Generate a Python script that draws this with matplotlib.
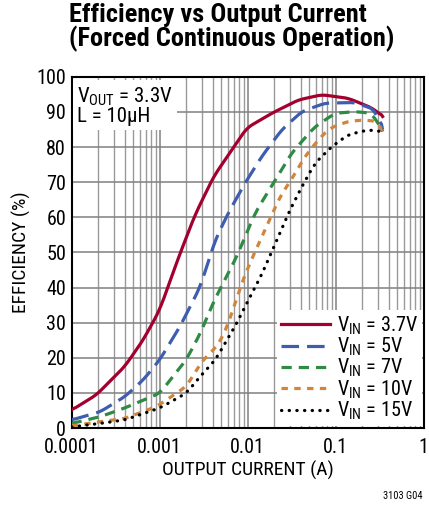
import matplotlib
matplotlib.use("Agg")
import matplotlib.pyplot as plt
import numpy as np
from matplotlib import font_manager
from matplotlib.ticker import LogLocator, NullFormatter, FixedLocator, FixedFormatter

_avail = set(f.name for f in font_manager.fontManager.ttflist)
FONT_NAME = next((n for n in ['Roboto Condensed', 'Archivo Narrow', 'PT Sans Narrow',
                              'Liberation Sans Narrow', 'Liberation Sans'] if n in _avail), 'DejaVu Sans')
plt.rcParams['font.family'] = [FONT_NAME, 'DejaVu Sans']
plt.rcParams['mathtext.fontset'] = 'custom'
plt.rcParams['mathtext.rm'] = FONT_NAME
plt.rcParams['mathtext.it'] = FONT_NAME

# Data
i_37 = [0.0001, 0.00019, 0.0004, 0.00065, 0.001, 0.0016, 0.0025, 0.0041, 0.0066, 0.0097, 0.0187, 0.0375, 0.069, 0.138, 0.26, 0.34]
e_37 = [5.1, 9.4, 17.5, 25.1, 33.6, 47.9, 60.5, 71.6, 79.2, 85.4, 89.6, 93.4, 94.9, 93.9, 91.1, 88.7]

i_5 = [0.0001, 0.00021, 0.0004, 0.00065, 0.001, 0.0017, 0.0029, 0.0042, 0.006, 0.0093, 0.0144, 0.0243, 0.0411, 0.0755, 0.165, 0.28, 0.34]
e_5 = [2.3, 4.6, 8.9, 13.7, 19.4, 28.9, 40.3, 53.1, 61.2, 69.7, 77.3, 84.9, 90.1, 92.5, 92.7, 90.6, 84.9]

i_7 = [0.0001, 0.00021, 0.0004, 0.001, 0.002, 0.0029, 0.0041, 0.0075, 0.0121, 0.0195, 0.0315, 0.058, 0.098, 0.165, 0.26, 0.34]
e_7 = [1.3, 3.2, 5.7, 9.9, 19.4, 27.0, 36.0, 48.8, 61.2, 69.7, 78.3, 85.8, 89.6, 90.1, 89.6, 84.4]

i_10 = [0.0001, 0.00021, 0.0004, 0.00092, 0.002, 0.0031, 0.0041, 0.0051, 0.006, 0.0072, 0.0085, 0.011, 0.0233, 0.0329, 0.0446, 0.063, 0.0859, 0.138, 0.204, 0.30, 0.33]
e_10 = [0.6, 1.8, 2.7, 6.1, 11.8, 19.4, 22.2, 25.5, 29.8, 35.5, 41.2, 47.9, 65.9, 71.6, 77.3, 82.0, 85.4, 87.3, 87.7, 87.3, 84.4]

i_15 = [0.0001, 0.00021, 0.0004, 0.001, 0.002, 0.0031, 0.0043, 0.0055, 0.0075, 0.0097, 0.0132, 0.0171, 0.029, 0.0411, 0.058, 0.0898, 0.138, 0.234, 0.33]
e_15 = [0.3, 1.3, 2.3, 5.7, 9.9, 15.6, 19.4, 24.1, 29.8, 35.5, 41.7, 47.9, 61.2, 68.7, 75.4, 80.1, 83.5, 84.9, 84.4]

labels = ['3.7V', '5V', '7V', '10V', '15V']
x_ticks = [0.0001, 0.001, 0.01, 0.1, 1]
x_ticklabels = ['0.0001', '0.001', '0.01', '0.1', '1']
y_ticks = [0, 10, 20, 30, 40, 50, 60, 70, 80, 90, 100]

fig = plt.figure(figsize=(4.29, 5.12), dpi=100)
ax = fig.add_axes([0.167, 0.164, 0.821, 0.686])

def smooth(x, y, n=300):
    lx = np.log10(x)
    xs = np.linspace(lx[0], lx[-1], n)
    ys = np.interp(xs, lx, y)
    k = 11
    pad = np.pad(ys, k // 2, mode='edge')
    ys2 = np.convolve(pad, np.ones(k) / k, mode='valid')
    ys2[0] = y[0]; ys2[-1] = y[-1]
    return 10 ** xs, ys2

series = [
    (i_37, e_37, '#A3002F', '-', False),
    (i_5, e_5, '#3F5DB0', (0, (5.5, 2.5)), False),
    (i_7, e_7, '#2E8A45', (0, (3.2, 2.2)), False),
    (i_10, e_10, '#D0853A', (0, (2.0, 2.0)), False),
    (i_15, e_15, '#000000', (0, (0.1, 2.3)), True),
]

for (xi, yi, c, ls, rnd), lab in zip(series, labels):
    xs, ys = smooth(np.array(xi), np.array(yi))
    kw = {'dash_capstyle': 'round'} if rnd else {}
    ax.plot(xs, ys, color=c, linestyle=ls, linewidth=2.3,
            label=r'V$_{\mathregular{IN}}$ = ' + lab, zorder=3, **kw)

ax.set_xscale('log')
ax.set_xlim(0.0001, 1)
ax.set_ylim(0, 100)
ax.xaxis.set_major_locator(FixedLocator(x_ticks))
ax.xaxis.set_major_formatter(FixedFormatter(x_ticklabels))
ax.xaxis.set_minor_locator(LogLocator(base=10, subs=np.arange(2, 10)))
ax.xaxis.set_minor_formatter(NullFormatter())
ax.set_yticks(y_ticks)
ax.grid(True, which='major', color='#808080', linewidth=1.1, zorder=0)
ax.grid(True, which='minor', axis='x', color='#9a9a9a', linewidth=1.0, zorder=0)
ax.tick_params(which='both', length=0, labelsize=14.5, pad=4)
ax.tick_params(axis='x', pad=7)
for s in ax.spines.values():
    s.set_linewidth(1.5)
    s.set_color('black')

ax.set_xlabel('OUTPUT CURRENT (A)', fontsize=14, labelpad=3)
ax.set_ylabel('EFFICIENCY (%)', fontsize=14, labelpad=4)

leg = ax.legend(loc='lower right', fontsize=14.5, frameon=True, fancybox=False,
                handlelength=2.4, handletextpad=0.35, labelspacing=-0.05,
                borderpad=0.2, borderaxespad=0.1)
leg.get_frame().set_facecolor('white')
leg.get_frame().set_edgecolor('none')
leg.get_frame().set_alpha(1)
leg.set_zorder(5)

ax.text(0.015, 0.975, r'V$_{\mathregular{OUT}}$ = 3.3V' + '\nL = 10µH', transform=ax.transAxes,
        fontsize=15, va='top', ha='left', linespacing=0.95,
        bbox=dict(facecolor='white', edgecolor='none', pad=3), zorder=5)

fig.text(0.162, 0.995, 'Efficiency vs Output Current\n(Forced Continuous Operation)',
         fontsize=19, fontweight='bold', va='top', ha='left', linespacing=0.95)
fig.text(0.985, 0.022, '3103 G04', fontsize=7.5, ha='right', va='bottom')

fig.savefig('out.png', dpi=100)
